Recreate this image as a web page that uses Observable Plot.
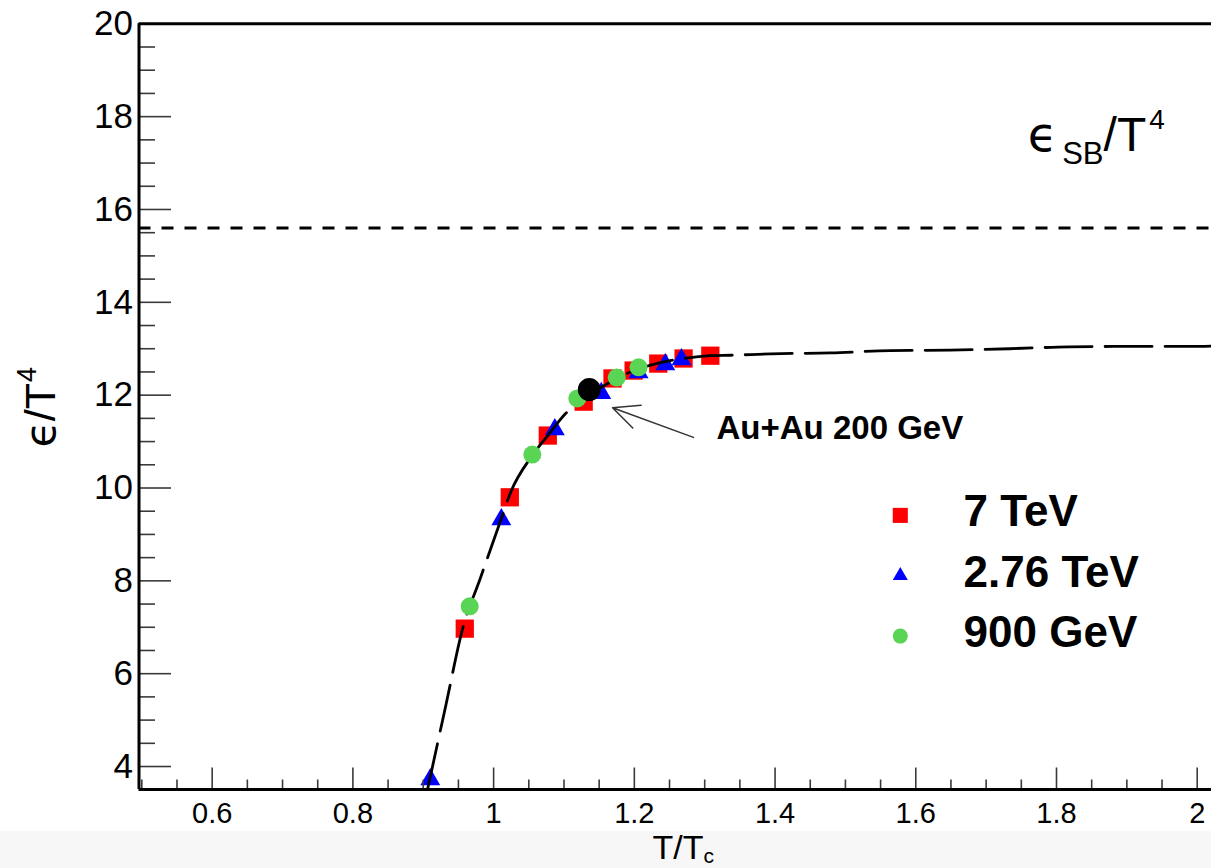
<!DOCTYPE html>
<html><head><meta charset="utf-8">
<script src="https://cdn.jsdelivr.net/npm/d3@7"></script>
<script src="https://cdn.jsdelivr.net/npm/@observablehq/plot@0.6"></script>
<style>
html,body{margin:0;padding:0;background:#fff;overflow:hidden;}
#chart svg{display:block;}
</style></head><body><div id="chart"></div>
<script>
// ---------- data ----------
const tev7_T = [0.959, 1.023, 1.077, 1.128, 1.169, 1.199, 1.234, 1.270, 1.308];
const tev7_E = [6.97, 9.80, 11.13, 11.86, 12.36, 12.53, 12.68, 12.79, 12.85];
const tev276_T = [0.910, 1.011, 1.087, 1.153, 1.206, 1.244, 1.267];
const tev276_E = [3.72, 9.32, 11.26, 12.04, 12.49, 12.66, 12.77];
const gev900_T = [0.966, 1.055, 1.119, 1.175, 1.206];
const gev900_E = [7.45, 10.72, 11.93, 12.38, 12.60];
const auau_T = [1.136];
const auau_E = [12.12];
const curve_T = [0.906, 0.932, 0.956, 0.981, 1.010, 1.024, 1.055, 1.077, 1.102, 1.128, 1.152, 1.180, 1.209, 1.237, 1.280, 1.308, 1.337, 1.394, 1.479, 1.564, 1.649, 1.733, 1.817, 1.901, 1.986, 2.030];
const curve_E = [3.50, 5.31, 6.97, 8.05, 9.30, 9.90, 10.70, 11.13, 11.60, 11.93, 12.16, 12.40, 12.58, 12.70, 12.81, 12.85, 12.86, 12.89, 12.91, 12.96, 12.97, 13.00, 13.04, 13.05, 13.05, 13.06];
const sbValue = [15.6];

const legendLabels = ["7 TeV", "2.76 TeV", "900 GeV"];
const legendColors = ["#ff0000", "#0000ff", "#59d454"];
const legendSymbols = ["square", "triangle", "circle"];

const xMajor = [0.6, 0.8, 1, 1.2, 1.4, 1.6, 1.8, 2];
const xMinor = [0.5, 0.55, 0.65, 0.7, 0.75, 0.85, 0.9, 0.95, 1.05, 1.1, 1.15, 1.25, 1.3, 1.35, 1.45, 1.5, 1.55, 1.65, 1.7, 1.75, 1.85, 1.9, 1.95];
const yMajor = [4, 6, 8, 10, 12, 14, 16, 18, 20];
const yMinor = [4.5, 5, 5.5, 6.5, 7, 7.5, 8.5, 9, 9.5, 10.5, 11, 11.5, 12.5, 13, 13.5, 14.5, 15, 15.5, 16.5, 17, 17.5, 18.5, 19, 19.5];

const arrowAnno = [{x1: 1.284, y1: 11.09, x2: 1.169, y2: 11.73}];

// ---------- build ----------
const FONT = "'Liberation Sans', Arial, Helvetica, sans-serif";
const xDomain = [0.496, 2.0203];
const yDomain = [3.505, 20];
const pts = (T, E) => T.map((t, i) => ({t, e: E[i]}));
const legend = legendLabels.map((label, i) => ({label, color: legendColors[i], symbol: legendSymbols[i], i}));
const legendR = {square: 8.5, triangle: 5.6, circle: 7.5};
const legendY = d => 9.41 - d.i * 1.30;
const tickShape = {draw(ctx, l) { ctx.moveTo(0, 0); ctx.lineTo(0, -l); }};
const tickStyle = {anchor: "start", shape: tickShape, stroke: "#3a3a3a", strokeWidth: 1.6, strokeLinecap: "butt"};

const chart = Plot.plot({
  width: 1211, height: 868,
  marginLeft: 138.5, marginRight: 0, marginTop: 23.3, marginBottom: 79,
  x: {domain: xDomain},
  y: {domain: yDomain},
  style: {fontFamily: FONT, color: "black", background: "linear-gradient(#ffffff 0px, #ffffff 831px, #f7f7f7 831px)"},
  marks: [
    Plot.ruleY(sbValue, {stroke: "black", strokeWidth: 3, strokeDasharray: "12,11"}),
    Plot.dot(pts(tev7_T, tev7_E), {x: "t", y: "e", symbol: "square", r: 10.3, fill: legendColors[0], stroke: null}),
    Plot.dot(pts(tev276_T, tev276_E), {x: "t", y: "e", symbol: "triangle", r: 7.4, fill: legendColors[1], stroke: null}),
    Plot.line(pts(curve_T, curve_E), {x: "t", y: "e", stroke: "black", strokeWidth: 2.8, strokeDasharray: "47,13", curve: "monotone-x", clip: true}),
    Plot.dot(pts(gev900_T, gev900_E), {x: "t", y: "e", symbol: "circle", r: 9, fill: legendColors[2], stroke: null}),
    Plot.dot(pts(auau_T, auau_E), {x: "t", y: "e", symbol: "circle", r: 11.5, fill: "black", stroke: null}),
    Plot.arrow(arrowAnno, {x1: "x1", y1: "y1", x2: "x2", y2: "y2", stroke: "#333", strokeWidth: 1.5, headLength: 30, headAngle: 50}),
    Plot.text(["Au+Au 200 GeV"], {x: 1.3168, y: 11.29, text: d => d, textAnchor: "start", lineAnchor: "middle", fontSize: 33, fontWeight: "bold"}),
    // legend
    ...legendSymbols.map(s => Plot.dot(legend.filter(d => d.symbol === s), {x: 1.578, y: legendY, symbol: s, r: legendR[s], fill: "color", stroke: null})),
    Plot.text(legend, {x: 1.668, y: legendY, dy: -3, text: "label", textAnchor: "start", lineAnchor: "middle", fontSize: 44, fontWeight: "bold"}),
    // epsilon_SB / T^4
    Plot.text(["ϵSB/T4"], {x: 1.759, y: 17.27, text: d => d, textAnchor: "start", lineAnchor: "bottom", fontSize: 48, ariaLabel: () => "sb-label"}),
    // axis titles
    Plot.text(["ϵ/T4"], {x: 0.3574, y: 10.87, text: d => d, rotate: -90, textAnchor: "start", lineAnchor: "middle", fontSize: 43, ariaLabel: () => "y-title"}),
    Plot.text(["T/Tc"], {x: 1.2258, y: yDomain[0], dy: 58.5, text: d => d, textAnchor: "start", lineAnchor: "middle", fontSize: 34, ariaLabel: () => "x-title"}),
    // ticks (inside)
    Plot.vector(yMajor, {x: xDomain[0], y: d => d, length: 32, rotate: 90, ...tickStyle}),
    Plot.vector(yMinor, {x: xDomain[0], y: d => d, length: 16, rotate: 90, ...tickStyle}),
    Plot.vector(xMajor, {x: d => d, y: yDomain[0], length: 22, rotate: 0, ...tickStyle}),
    Plot.vector(xMinor, {x: d => d, y: yDomain[0], length: 10, rotate: 0, ...tickStyle}),
    // frame
    Plot.ruleX([xDomain[0]], {stroke: "black", strokeWidth: 3}),
    Plot.ruleY([yDomain[0]], {stroke: "black", strokeWidth: 3}),
    Plot.ruleY([yDomain[1]], {stroke: "black", strokeWidth: 3}),
    // tick labels
    Plot.axisY(yMajor, {tickSize: 0, tickPadding: 6, fontSize: 35, tickFormat: d => String(d), label: null}),
    Plot.axisX(xMajor, {tickSize: 0, tickPadding: 13, fontSize: 29, tickFormat: d => String(d), label: null})
  ]
});
document.getElementById("chart").appendChild(chart);

// rich text (sub/superscripts) as real text
function richText(aria, parts) {
  const t = chart.querySelector(`text[aria-label="${aria}"]`) || chart.querySelector(`g[aria-label="${aria}"] text`);
  if (!t) return;
  t.textContent = "";
  let cur = 0;
  for (const p of parts) {
    const ts = document.createElementNS("http://www.w3.org/2000/svg", "tspan");
    ts.textContent = p.text;
    if (p.size) ts.setAttribute("font-size", p.size);
    if (p.family) ts.setAttribute("font-family", p.family);
    const shift = p.shift || 0;
    if (shift - cur) ts.setAttribute("dy", shift - cur);
    cur = shift;
    if (p.dx) ts.setAttribute("dx", p.dx);
    t.appendChild(ts);
  }
}
richText("sb-label", [{text: "ϵ", family: "DejaVu Sans"}, {text: "SB", size: 31, shift: 13, dx: 5}, {text: "/T", shift: 0}, {text: "4", size: 28, shift: -22, dx: 3}]);
richText("y-title", [{text: "ϵ", family: "DejaVu Sans"}, {text: "/T"}, {text: "4", size: 27, shift: -19, dx: 1}]);
richText("x-title", [{text: "T/T"}, {text: "c", size: 21, shift: 4}]);
</script>
</body></html>
